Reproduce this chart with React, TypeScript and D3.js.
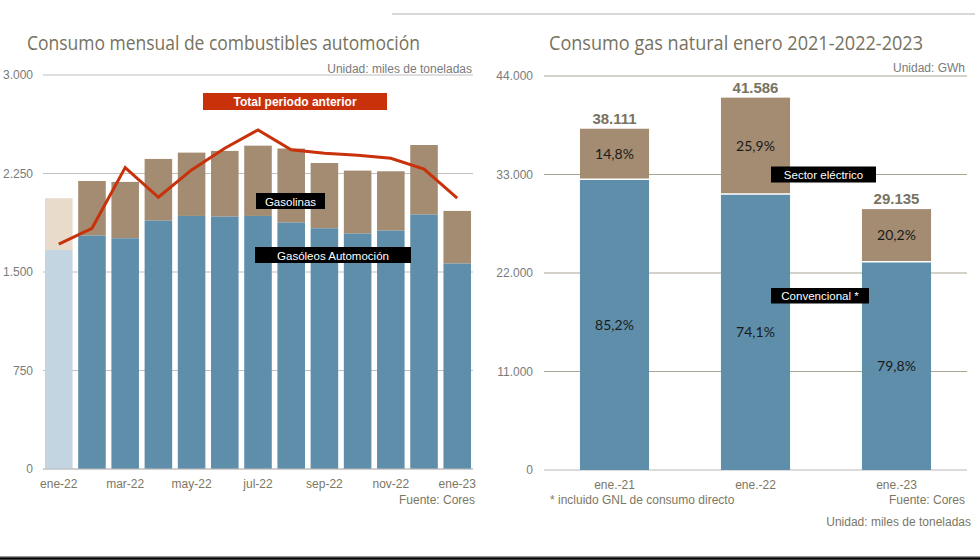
import React from "react";
import * as d3 from "d3";

// ---- Left chart data (miles de toneladas) ----
const months = ["ene-22","feb-22","mar-22","abr-22","may-22","jun-22","jul-22","ago-22","sep-22","oct-22","nov-22","dic-22","ene-23"];
const gasoleos = [1668,1777,1757,1891,1927,1922,1927,1876,1833,1792,1815,1937,1564];
const totales = [2062,2193,2186,2361,2409,2422,2462,2440,2330,2272,2267,2467,1965];
const periodoAnterior = [1713,1833,2295,2069,2277,2442,2582,2430,2404,2389,2366,2283,2062];
const leftTicks = [0,750,1500,2250,3000];
const leftXLabels = ["ene-22","mar-22","may-22","jul-22","sep-22","nov-22","ene-23"];

// ---- Right chart data (GWh) ----
const gasCats = ["ene.-21","ene.-22","ene.-23"];
const gasTotals = [38111,41586,29135];
const convPct = [85.2,74.1,79.8];
const elecPct = [14.8,25.9,20.2];
const rightTicks = [0,11000,22000,33000,44000];

const BLUE = "#5f8eaa";
const BROWN = "#a38c72";
const LBLUE = "#c2d5e0";
const LBROWN = "#e8dbcb";
const RED = "#c9310b";
const TITLE = "#76725f";
const AXIS = "#7a7a7a";
const SANS = "'Liberation Sans', Arial, sans-serif";

const fmt = (v: number) => d3.format(",")(v).replace(/,/g, ".");
const fmtPct = (v: number) => v.toFixed(1).replace(".", ",") + "%";

export default function App() {
  // Left scales
  const lx = d3.scaleBand<string>().domain(months).range([43, 473]).paddingInner(0.17).paddingOuter(0.06);
  const ly = d3.scaleLinear().domain([0, 3000]).range([469, 75]);
  const line = d3.line<number>()
    .x((_, i) => (lx(months[i]) as number) + lx.bandwidth() / 2)
    .y((d) => ly(d));

  // Right scales
  const rx = d3.scaleBand<string>().domain(gasCats).range([544, 967]).paddingInner(0.51).paddingOuter(0.255);
  const ry = d3.scaleLinear().domain([0, 44000]).range([470, 76]);

  return (
    <svg width={980} height={560} style={{ position: "absolute", left: 0, top: 0, background: "#fff" }}>
      {/* top separator line */}
      <line x1={392} x2={975} y1={14} y2={14} stroke="#b0b0b0" strokeWidth={1.2} />
      {/* bottom line */}
      <line x1={0} x2={980} y1={556.5} y2={556.5} stroke="#999" strokeWidth={1} />
      <line x1={0} x2={980} y1={558.5} y2={558.5} stroke="#000" strokeWidth={2.5} />

      {/* ===== LEFT CHART ===== */}
      <text x={27} y={50} fontFamily="'Open Sans', sans-serif" fontSize={20} fill={TITLE} textLength={393} lengthAdjust="spacingAndGlyphs">
        Consumo mensual de combustibles automoción
      </text>
      <text x={472} y={73} textAnchor="end" fontFamily={SANS} fontSize={12} fill={AXIS}>Unidad: miles de toneladas</text>

      {leftTicks.map((t) => (
        <g key={t}>
          <line x1={43} x2={473} y1={ly(t)} y2={ly(t)} stroke="#c0c0c0" strokeWidth={1.2} />
          <text x={33} y={ly(t) + 4} textAnchor="end" fontFamily={SANS} fontSize={12} fill={AXIS}>{fmt(t)}</text>
        </g>
      ))}

      {months.map((m, i) => {
        const x = lx(m) as number;
        const w = lx.bandwidth();
        const first = i === 0;
        return (
          <g key={m}>
            <rect x={x} y={ly(totales[i])} width={w} height={ly(gasoleos[i]) - ly(totales[i])} fill={first ? LBROWN : BROWN} />
            <rect x={x} y={ly(gasoleos[i])} width={w} height={ly(0) - ly(gasoleos[i])} fill={first ? LBLUE : BLUE} />
          </g>
        );
      })}
      <line x1={43} x2={473} y1={ly(0)} y2={ly(0)} stroke="#c0c0c0" strokeWidth={1.2} />

      <path d={line(periodoAnterior) || ""} fill="none" stroke={RED} strokeWidth={3} strokeLinejoin="miter" />

      {leftXLabels.map((lab) => (
        <text key={lab} x={(lx(lab) as number) + lx.bandwidth() / 2} y={488} textAnchor="middle" fontFamily={SANS} fontSize={12} fill="#7b7763">{lab}</text>
      ))}
      <text x={475} y={504} textAnchor="end" fontFamily={SANS} fontSize={12} fill="#7b7763">Fuente: Cores</text>

      {/* label boxes left */}
      <rect x={203} y={93} width={184} height={17} fill={RED} />
      <text x={295} y={106} textAnchor="middle" fontFamily={SANS} fontSize={12} fontWeight="bold" fill="#fff">Total periodo anterior</text>
      <rect x={256} y={193} width={69} height={16} fill="#000" />
      <text x={290.5} y={205.5} textAnchor="middle" fontFamily={SANS} fontSize={11.5} fill="#fff">Gasolinas</text>
      <rect x={255} y={247} width={156} height={16} fill="#000" />
      <text x={333} y={259.5} textAnchor="middle" fontFamily={SANS} fontSize={11.5} fill="#fff">Gasóleos Automoción</text>

      {/* ===== RIGHT CHART ===== */}
      <text x={549} y={50} fontFamily="'Open Sans', sans-serif" fontSize={20} fill={TITLE} textLength={374} lengthAdjust="spacingAndGlyphs">
        Consumo gas natural enero 2021-2022-2023
      </text>
      <text x={965} y={72} textAnchor="end" fontFamily={SANS} fontSize={12} fill={AXIS}>Unidad: GWh</text>

      {rightTicks.map((t) => (
        <g key={t}>
          <line x1={544} x2={967} y1={ry(t)} y2={ry(t)} stroke={t === 0 ? "#b8b8b8" : "#aaa591"} strokeWidth={1.2} />
          <text x={533} y={ry(t) + 4} textAnchor="end" fontFamily={SANS} fontSize={12} fill={AXIS}>{fmt(t)}</text>
        </g>
      ))}

      {gasCats.map((c, i) => {
        const x = rx(c) as number;
        const w = rx.bandwidth();
        const total = gasTotals[i];
        const conv = total * convPct[i] / 100;
        const yTop = ry(total);
        const yMid = ry(conv);
        const y0 = ry(0);
        return (
          <g key={c}>
            <rect x={x} y={yTop} width={w} height={yMid - yTop} fill={BROWN} />
            <rect x={x} y={yMid} width={w} height={y0 - yMid} fill={BLUE} />
            <line x1={x} x2={x + w} y1={yMid} y2={yMid} stroke="#fff" strokeWidth={1.5} />
            <text x={x + w / 2} y={yTop - 5} textAnchor="middle" fontFamily={SANS} fontSize={15} fontWeight="bold" fill="#77735f">{fmt(total)}</text>
            <text x={x + w / 2} y={(yTop + yMid) / 2 + 5} textAnchor="middle" fontFamily="Lato, sans-serif" fontSize={14} fill="#1a1a1a">{fmtPct(elecPct[i])}</text>
            <text x={x + w / 2} y={(yMid + y0) / 2 + 5} textAnchor="middle" fontFamily="Lato, sans-serif" fontSize={14} fill="#1a1a1a">{fmtPct(convPct[i])}</text>
            <text x={x + w / 2} y={489} textAnchor="middle" fontFamily={SANS} fontSize={12} fill="#7b7763">{c}</text>
          </g>
        );
      })}

      <rect x={771} y={166.5} width={105} height={16} fill="#000" />
      <text x={823.5} y={179} textAnchor="middle" fontFamily={SANS} fontSize={11.5} fill="#fff">Sector eléctrico</text>
      <rect x={771} y={288} width={98} height={15.5} fill="#000" />
      <text x={820} y={300.3} textAnchor="middle" fontFamily={SANS} fontSize={11.5} fill="#fff">Convencional *</text>

      <text x={550} y={504} fontFamily={SANS} fontSize={12} fill="#7b7763">* incluido GNL de consumo directo</text>
      <text x={965} y={504} textAnchor="end" fontFamily={SANS} fontSize={12} fill="#7b7763">Fuente: Cores</text>
      <text x={971} y={526} textAnchor="end" fontFamily={SANS} fontSize={12} fill="#7b7763">Unidad: miles de toneladas</text>
    </svg>
  );
}
